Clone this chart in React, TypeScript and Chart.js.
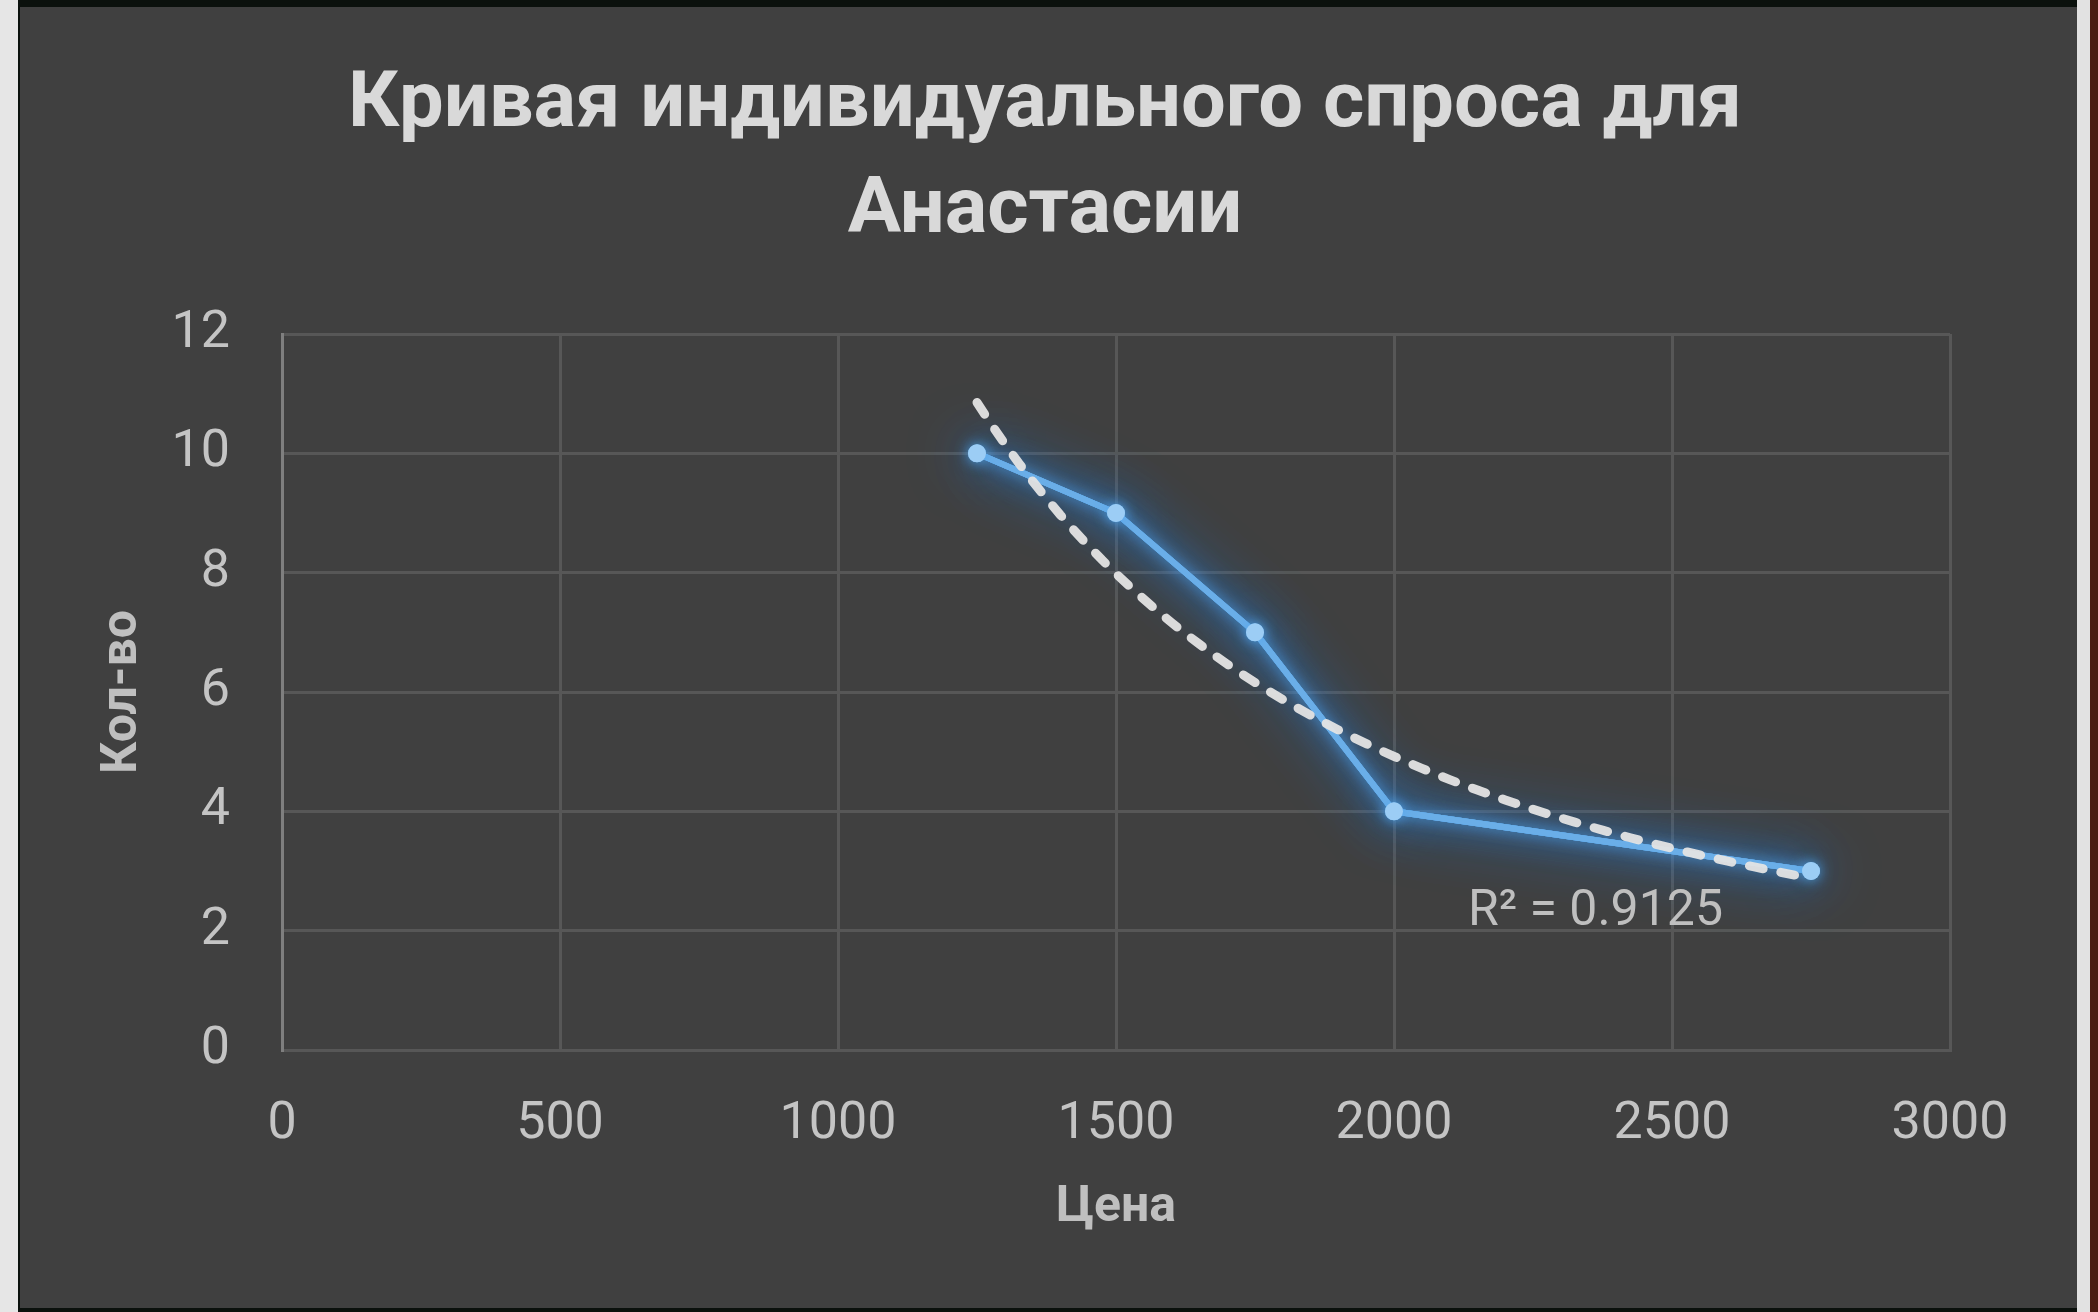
import React, { useEffect, useRef } from "react";
import { Chart, registerables } from "chart.js";

Chart.register(...registerables);

// Price (Цена) and purchased quantity (Кол-во)
const prices = [1250, 1500, 1750, 2000, 2750];
const quantities = [10, 9, 7, 4, 3];

const titleLines = ["Кривая индивидуального спроса для", "Анастасии"];
const xAxisTitle = "Цена";
const yAxisTitle = "Кол-во";
const r2Label = "R² = 0.9125";
const r2Anchor = { x: 2133, y: 2.3 };

const xMin = 0;
const xMax = 3000;
const xStep = 500;
const yMin = 0;
const yMax = 12;
const yStep = 2;

const FONT = "Roboto, 'Noto Sans', sans-serif";

// Power trendline y = a * x^b, least squares on logs
function powerFit(xs: number[], ys: number[]) {
  const lx = xs.map(Math.log);
  const ly = ys.map(Math.log);
  const n = xs.length;
  const mx = lx.reduce((s, v) => s + v, 0) / n;
  const my = ly.reduce((s, v) => s + v, 0) / n;
  let sxy = 0;
  let sxx = 0;
  for (let i = 0; i < n; i++) {
    sxy += (lx[i] - mx) * (ly[i] - my);
    sxx += (lx[i] - mx) * (lx[i] - mx);
  }
  const b = sxy / sxx;
  const a = Math.exp(my - b * mx);
  return { a, b };
}

function trendPoints() {
  const { a, b } = powerFit(prices, quantities);
  const lo = Math.min(...prices);
  const hi = Math.max(...prices);
  const pts: { x: number; y: number }[] = [];
  const steps = 60;
  for (let i = 0; i <= steps; i++) {
    const x = lo + ((hi - lo) * i) / steps;
    pts.push({ x, y: a * Math.pow(x, b) });
  }
  return pts;
}

const overlayPlugin = {
  id: "overlay",
  beforeDatasetDraw(chart: any, args: any) {
    if (args.index === 0) {
      const ctx = chart.ctx;
      // wide soft blue halo under the demand line and its markers
      ctx.save();
      ctx.shadowColor = "rgba(40,130,230,1)";
      ctx.shadowBlur = 60;
      args.meta.dataset.draw(ctx, chart.chartArea);
      args.meta.dataset.draw(ctx, chart.chartArea);
      args.meta.data.forEach((pt: any) => pt.draw(ctx, chart.chartArea));
      ctx.shadowBlur = 30;
      args.meta.dataset.draw(ctx, chart.chartArea);
      ctx.restore();
      ctx.save();
      ctx.shadowColor = "rgba(80,165,240,0.95)";
      ctx.shadowBlur = 14;
    }
  },
  afterDatasetDraw(chart: any, args: any) {
    if (args.index === 0) {
      chart.ctx.restore();
    }
  },
  afterDraw(chart: any) {
    const ctx = chart.ctx;
    ctx.save();
    ctx.fillStyle = "#d9d9d9";
    ctx.textAlign = "center";
    ctx.textBaseline = "middle";
    ctx.font = `bold 78px ${FONT}`;
    const target = 1394;
    const w = ctx.measureText(titleLines[0]).width;
    const k = target / w;
    ctx.save();
    ctx.translate(1025, 0);
    ctx.scale(k, 1);
    ctx.fillText(titleLines[0], 0, 99);
    ctx.fillText(titleLines[1], 0, 205);
    ctx.restore();

    const xs = chart.scales.x;
    const ys = chart.scales.y;
    ctx.fillStyle = "#bfbfbf";
    ctx.textAlign = "left";
    ctx.font = `50px ${FONT}`;
    ctx.fillText(r2Label, xs.getPixelForValue(r2Anchor.x), ys.getPixelForValue(r2Anchor.y));
    ctx.restore();
  },
};

export default function App() {
  const ref = useRef<HTMLCanvasElement | null>(null);

  useEffect(() => {
    if (!ref.current) return;
    const chart = new Chart(ref.current, {
      type: "scatter",
      data: {
        datasets: [
          {
            label: "Кол-во",
            data: prices.map((p, i) => ({ x: p, y: quantities[i] })),
            showLine: true,
            borderColor: "#6aaee8",
            borderWidth: 6,
            pointBackgroundColor: "#9ccdf5",
            pointBorderWidth: 0,
            pointRadius: 9,
            order: 1,
          },
          {
            label: "Степенная",
            data: trendPoints(),
            showLine: true,
            borderColor: "rgba(228,228,228,0.95)",
            borderWidth: 9,
            borderDash: [14, 18],
            borderCapStyle: "round",
            pointRadius: 0,
            order: 0,
          },
        ],
      },
      options: {
        animation: false,
        responsive: false,
        maintainAspectRatio: false,
        events: [],
        layout: { padding: { left: 0, right: 127, top: 327, bottom: 0 } },
        plugins: {
          legend: { display: false },
          title: { display: false },
          tooltip: { enabled: false },
        },
        scales: {
          x: {
            type: "linear",
            min: xMin,
            max: xMax,
            afterFit: (s: any) => {
              s.height = 258;
            },
            ticks: {
              stepSize: xStep,
              color: "#c4c4c4",
              padding: 44,
              font: { family: FONT, size: 52 },
              callback: (v: any) => String(v),
            },
            grid: { color: "#575757", lineWidth: 3, drawTicks: false },
            border: { color: "#575757", width: 3 },
            title: {
              display: true,
              text: xAxisTitle,
              color: "#bfbfbf",
              font: { family: FONT, size: 50, weight: "bold" },
              padding: { top: 0, bottom: 70 },
            },
          },
          y: {
            type: "linear",
            min: yMin,
            max: yMax,
            afterFit: (s: any) => {
              s.width = 262;
            },
            ticks: {
              stepSize: yStep,
              color: "#c4c4c4",
              padding: 52,
              font: { family: FONT, size: 52 },
              callback: (v: any) => String(v),
            },
            grid: { color: "#575757", lineWidth: 3, drawTicks: false },
            border: { color: "#7f7f7f", width: 3 },
            title: {
              display: true,
              text: yAxisTitle,
              color: "#bfbfbf",
              font: { family: FONT, size: 50, weight: "bold" },
              padding: { top: 73, bottom: 0 },
            },
          },
        },
      },
      plugins: [overlayPlugin],
    });
    return () => chart.destroy();
  }, []);

  return (
    <div
      style={{
        position: "absolute",
        left: 0,
        top: 0,
        width: 2098,
        height: 1312,
        background: "#0b110d",
        overflow: "hidden",
      }}
    >
      <div style={{ position: "absolute", left: 0, top: 0, width: 18, height: 1312, background: "#e6e6e6" }} />
      <div style={{ position: "absolute", left: 2077, top: 0, width: 13, height: 1312, background: "#e2e2e2" }} />
      <div style={{ position: "absolute", left: 2090, top: 0, width: 8, height: 1312, background: "#4a1d12" }} />
      <div
        style={{
          position: "absolute",
          left: 20,
          top: 7,
          width: 2057,
          height: 1301,
          background: "#404040",
        }}
      >
        <canvas ref={ref} width={2057} height={1301} style={{ width: 2057, height: 1301, display: "block" }} />
      </div>
    </div>
  );
}
